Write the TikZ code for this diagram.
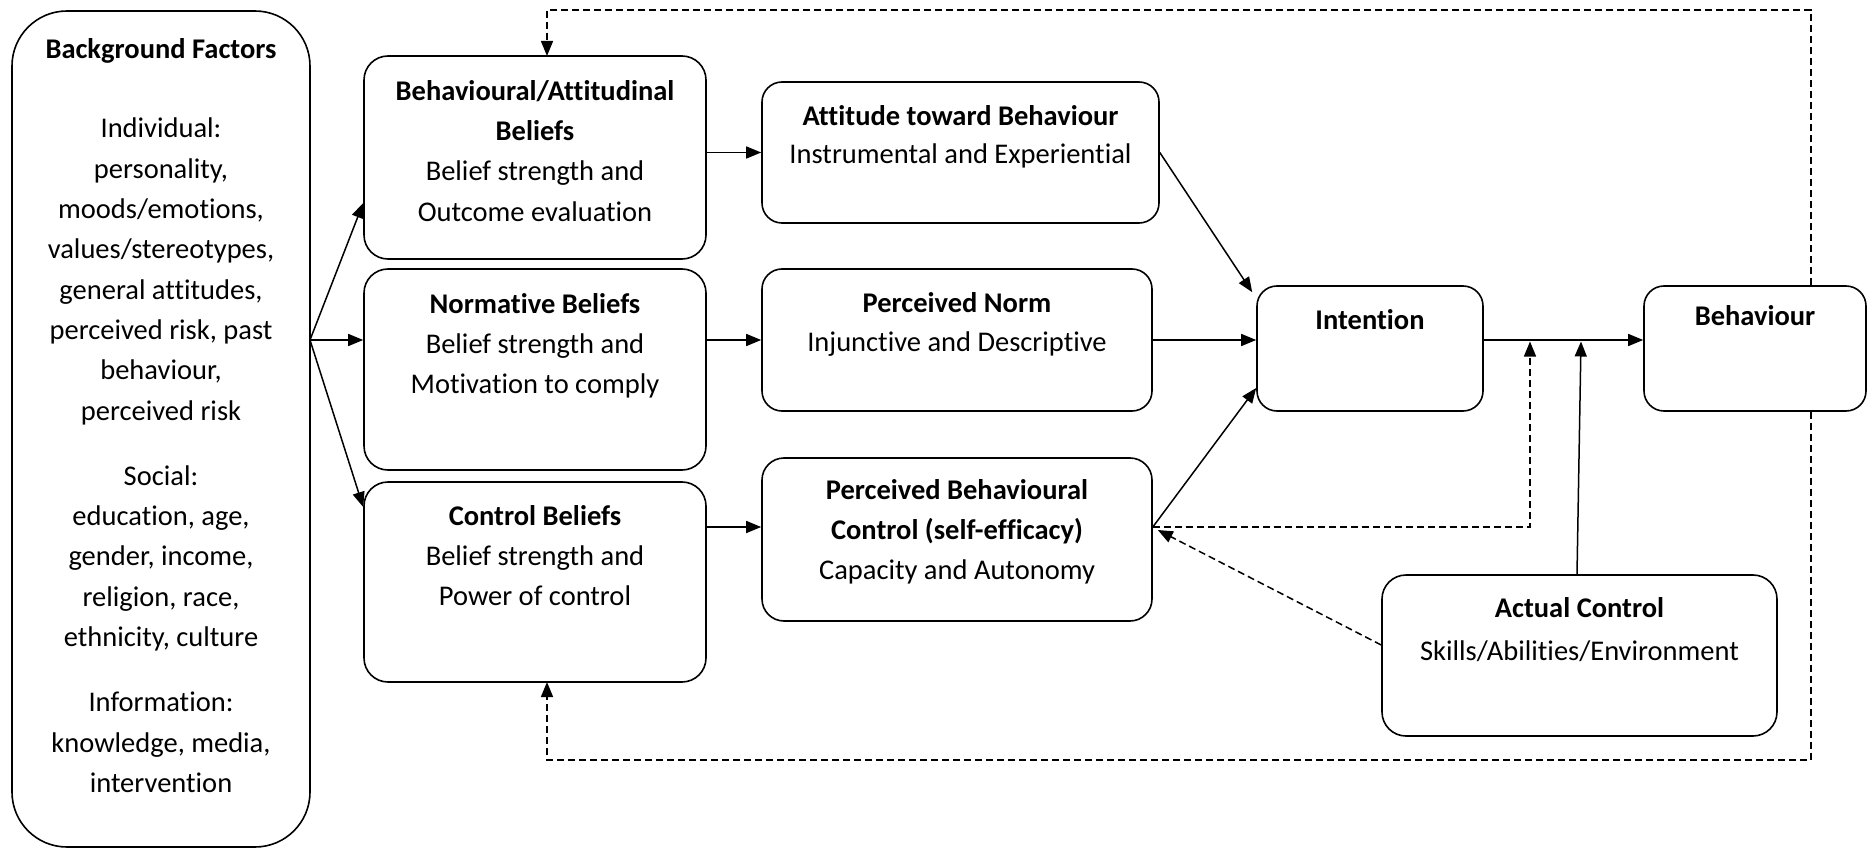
\documentclass[tikz,border=0pt]{standalone}
\usepackage{fontspec}
\setmainfont{Carlito}[Ligatures=NoCommon]
\usetikzlibrary{arrows.meta,calc}
\begin{document}
\begin{tikzpicture}[x=1pt,y=-1pt,
  box/.style={draw, line width=1.6pt, rounded corners=24pt, inner sep=0pt},
  txt/.style={align=center, inner sep=0pt, anchor=north, font=\fontsize{28.5}{40.3}\selectfont},
  arr/.style={line width=1.5pt, -{Triangle[length=15pt,width=12pt]}},
  dsh/.style={dash pattern=on 7pt off 4pt},
]
\useasboundingbox (0,0) rectangle (1869,850);

% boxes
\node[box, rounded corners=55pt, minimum width=298pt, minimum height=836pt] (bg) at (161,429) {};
\node[box, minimum width=342pt, minimum height=203pt] (b1) at (535,157.5) {};
\node[box, minimum width=342pt, minimum height=201pt] (b2) at (535,369.5) {};
\node[box, minimum width=342pt, minimum height=200pt] (b3) at (535,582) {};
\node[box, rounded corners=20pt, minimum width=397pt, minimum height=141pt] (att) at (960.5,152.5) {};
\node[box, rounded corners=20pt, minimum width=390pt, minimum height=142pt] (norm) at (957,340) {};
\node[box, rounded corners=22pt, minimum width=390pt, minimum height=163pt] (pbc) at (957,539.5) {};
\node[box, rounded corners=20pt, minimum width=226pt, minimum height=125pt] (int) at (1370,348.5) {};
\node[box, rounded corners=20pt, minimum width=222pt, minimum height=125pt] (beh) at (1755,348.5) {};
\node[box, rounded corners=24pt, minimum width=395pt, minimum height=161pt] (act) at (1579.5,655.5) {};

% texts
\node[txt] (bgt) at (161,38) {\textbf{Background Factors}};
\node[txt] (bgb) at (161,118) {Individual:\\personality,\\moods/emotions,\\values/stereotypes,\\general attitudes,\\perceived risk, past\\behaviour,\\perceived risk\\[25pt]Social:\\education, age,\\gender, income,\\religion, race,\\ethnicity, culture\\[25pt]Information:\\knowledge, media,\\intervention};
\node[txt] (b1t) at (535,80) {\textbf{Behavioural/Attitudinal}\\\textbf{Beliefs}\\Belief strength and\\Outcome evaluation};
\node[txt] (b2t) at (535,293) {\textbf{Normative Beliefs}\\Belief strength and\\Motivation to comply};
\node[txt] (b3t) at (535,505) {\textbf{Control Beliefs}\\Belief strength and\\Power of control};
\node[txt, font=\fontsize{28.5}{38.5}\selectfont] (attt) at (960.5,105) {\textbf{Attitude toward Behaviour}\\Instrumental and Experiential};
\node[txt, font=\fontsize{28.5}{39}\selectfont] (normt) at (957,292) {\textbf{Perceived Norm}\\Injunctive and Descriptive};
\node[txt] (pbct) at (957,479) {\textbf{Perceived Behavioural}\\\textbf{Control (self-efficacy)}\\Capacity and Autonomy};
\node[txt] (intt) at (1370,309) {\textbf{Intention}};
\node[txt] (beht) at (1755,305) {\textbf{Behaviour}};
\node[txt, font=\fontsize{28.5}{43}\selectfont] (actt) at (1579.5,597) {\textbf{Actual Control}\\Skills/Abilities/Environment};

% coordinates
\coordinate (fan) at (310,340);
\coordinate (pbcin) at ([yshift=12.5pt]pbc.west);
\coordinate (pbcout) at ([yshift=12.5pt]pbc.east);
\coordinate (ibL) at ([yshift=8.5pt]int.east);
\coordinate (mod1) at (1530,341.5);
\coordinate (mod2) at (1581,341.5);
\coordinate (tf) at (1811,10);
\coordinate (bf) at (1811,760);
\coordinate (b1fb) at (547,56);
\coordinate (b3fb) at (547,682);

% connectors
\draw[arr] (fan) -- ([yshift=-45.5pt]b1.west);
\draw[arr] (fan) -- ([yshift=29.5pt]b2.west);
\draw[arr] (fan) -- ([yshift=75pt]b3.west);
\draw[arr] (b1.east |- att.west) -- (att.west);
\draw[arr] (b2.east |- norm.west) -- (norm.west);
\draw[arr] (b3.east |- pbcin) -- (pbcin);
\draw[arr] (att.east) -- ([xshift=-4pt,yshift=-7pt]int.north west);
\draw[arr] (norm.east) -- (int.west |- norm.east);
\draw[arr] (pbcout) -- ([yshift=-39.5pt]int.west);
\draw[arr] (ibL) -- (beh.west |- ibL);
\draw[arr, dsh] (pbcout) -| (mod1);
\draw[arr] ([xshift=-2.5pt]act.north) -- (mod2);
\draw[arr, dsh] ([yshift=10.5pt]act.west) -- ([xshift=5pt,yshift=9.5pt]pbc.east);
\draw[arr, dsh] (beh.north -| tf) -- (tf) -- (tf -| b1fb) -- (b1fb);
\draw[arr, dsh] (beh.south -| bf) -- (bf) -- (bf -| b3fb) -- (b3fb);
\end{tikzpicture}
\end{document}
